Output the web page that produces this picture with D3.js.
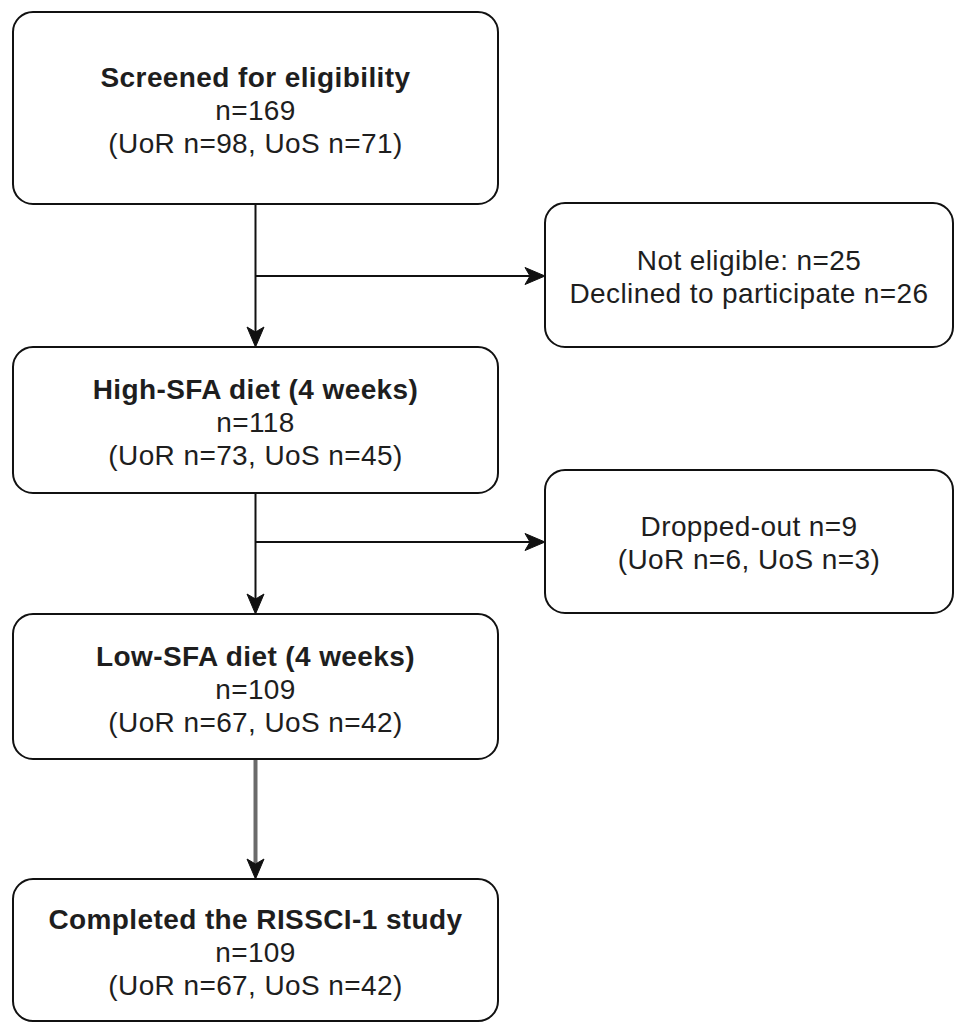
<!DOCTYPE html>
<html>
<head>
<meta charset="utf-8">
<script src="https://cdn.jsdelivr.net/npm/d3@7"></script>
<style>
  html, body { margin: 0; padding: 0; background: #fff; }
  svg { display: block; }
  text { font-family: "Liberation Sans", Arial, sans-serif; fill: #1e1e1e; letter-spacing: 0.4px; }
</style>
</head>
<body>
<svg id="chart" width="956" height="1023"></svg>
<script>
// stage boxes (left column)
const stageTitles = ['Screened for eligibility', 'High-SFA diet (4 weeks)', 'Low-SFA diet (4 weeks)', 'Completed the RISSCI-1 study'];
const stageTotals = [169, 118, 109, 109];
const stageUoR = [98, 73, 67, 67];
const stageUoS = [71, 45, 42, 42];

// exclusion boxes (right column)
const notEligible = 25;
const declined = 26;
const droppedTotal = 9;
const droppedUoR = 6;
const droppedUoS = 3;

const exclusionLines = [
  [`Not eligible: n=${notEligible}`, `Declined to participate n=${declined}`],
  [`Dropped-out n=${droppedTotal}`, `(UoR n=${droppedUoR}, UoS n=${droppedUoS})`]
];

// layout
const mainX = [13, 498];
const mainBoxes = [[12, 204], [347, 493], [614, 759], [879, 1021]];
const sideX = [545, 953];
const sideBoxes = [[203, 347], [470, 613]];
const branchY = [276, 542];
const FS = 28, LH = 33, R = 20;

const svg = d3.select('#chart');
const cx = (mainX[0] + mainX[1]) / 2;

// classic draw.io arrowhead pointing along +x, tip at origin
function arrowHead(g, x, y, angle) {
  g.append('path')
    .attr('d', 'M0,0 L-20,-8.5 L-15,0 L-20,8.5 Z')
    .attr('transform', `translate(${x},${y}) rotate(${angle})`)
    .attr('fill', '#111')
    .attr('stroke', '#111')
    .attr('stroke-width', 1)
    .attr('stroke-linejoin', 'miter');
}

const links = svg.append('g');

// vertical connectors between stage boxes
mainBoxes.slice(0, -1).forEach((b, i) => {
  const y0 = b[1], y1 = mainBoxes[i + 1][0];
  const last = i === mainBoxes.length - 2;
  links.append('line')
    .attr('x1', cx).attr('x2', cx)
    .attr('y1', y0).attr('y2', y1 - 14)
    .attr('stroke', last ? '#6b6b6b' : '#111')
    .attr('stroke-width', last ? 4 : 2);
  arrowHead(links, cx, y1, 90);
});

// branch arrows to exclusion boxes
branchY.forEach(y => {
  links.append('line')
    .attr('x1', cx).attr('x2', sideX[0] - 14)
    .attr('y1', y).attr('y2', y)
    .attr('stroke', '#111').attr('stroke-width', 2);
  arrowHead(links, sideX[0], y, 0);
});

// stage boxes
const stages = svg.append('g').selectAll('g')
  .data(stageTitles.map((t, i) => ({ t, n: stageTotals[i], r: stageUoR[i], s: stageUoS[i], b: mainBoxes[i] })))
  .join('g');

stages.append('rect')
  .attr('x', mainX[0]).attr('y', d => d.b[0])
  .attr('width', mainX[1] - mainX[0]).attr('height', d => d.b[1] - d.b[0])
  .attr('rx', R).attr('ry', R)
  .attr('fill', '#fff').attr('stroke', '#111').attr('stroke-width', 2);

stages.each(function(d) {
  const g = d3.select(this);
  const mid = (d.b[0] + d.b[1]) / 2 + FS * 0.36 + 2;
  const lines = [d.t, `n=${d.n}`, `(UoR n=${d.r}, UoS n=${d.s})`];
  lines.forEach((txt, k) => {
    g.append('text')
      .attr('x', cx).attr('y', mid + (k - 1) * LH)
      .attr('text-anchor', 'middle')
      .attr('font-size', FS)
      .attr('font-weight', k === 0 ? 'bold' : 'normal')
      .text(txt);
  });
});

// exclusion boxes
const sides = svg.append('g').selectAll('g')
  .data(exclusionLines.map((l, i) => ({ l, b: sideBoxes[i] })))
  .join('g');

sides.append('rect')
  .attr('x', sideX[0]).attr('y', d => d.b[0])
  .attr('width', sideX[1] - sideX[0]).attr('height', d => d.b[1] - d.b[0])
  .attr('rx', R).attr('ry', R)
  .attr('fill', '#fff').attr('stroke', '#111').attr('stroke-width', 2);

const scx = (sideX[0] + sideX[1]) / 2;
sides.each(function(d) {
  const g = d3.select(this);
  const mid = (d.b[0] + d.b[1]) / 2 + FS * 0.36 + 1;
  d.l.forEach((txt, k) => {
    g.append('text')
      .attr('x', scx).attr('y', mid + (k - 0.5) * LH)
      .attr('text-anchor', 'middle')
      .attr('font-size', FS)
      .text(txt);
  });
});
</script>
</body>
</html>
